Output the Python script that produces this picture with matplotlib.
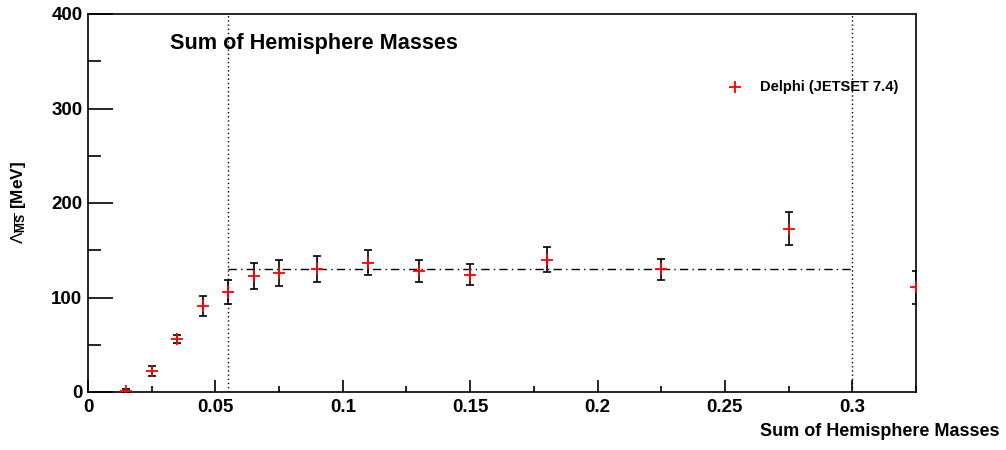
import matplotlib
matplotlib.use("Agg")
import matplotlib.pyplot as plt
from matplotlib.ticker import MultipleLocator

plt.rcParams['font.family'] = ['Liberation Sans', 'DejaVu Sans']
plt.rcParams['mathtext.fontset'] = 'custom'
plt.rcParams['mathtext.rm'] = 'Liberation Sans'
plt.rcParams['mathtext.bf'] = 'Liberation Sans:bold'

x = [0.015, 0.025, 0.035, 0.045, 0.055, 0.065, 0.075, 0.09, 0.11, 0.13, 0.15, 0.18, 0.225, 0.275, 0.325]
y = [1, 22, 56, 91, 106, 123, 126, 130, 137, 128, 124, 140, 130, 173, 111]
yerr = [2, 5, 4, 10.5, 13, 14, 14, 14, 13, 12, 11, 13, 11, 17.5, 17.5]
fit_range = [0.055, 0.3]
fit_value = 130
title = "Sum of Hemisphere Masses"
legend_label = "Delphi (JETSET 7.4)"

fig = plt.figure(figsize=(10.06, 4.5), dpi=100)
ax = fig.add_axes([88/1006, 1-392/450, (916-88)/1006, (392-14)/450])

ax.errorbar(x, y, yerr=yerr, fmt='none', ecolor='black', elinewidth=1.2,
            capsize=2.8, capthick=1.2, zorder=2)
ax.plot(x, y, linestyle='none', marker='+', color='red', markersize=8.5,
        markeredgewidth=1.3, zorder=3)

ax.plot(fit_range, [fit_value, fit_value], color='black', linestyle=(0, (6, 3, 1, 3)),
        linewidth=1.0, zorder=1)
for xv in fit_range:
    ax.axvline(xv, color='black', linestyle=(0, (1, 2)), linewidth=1.0, zorder=1)

ax.set_xlim(0, 0.325)
ax.set_ylim(0, 400)
ax.xaxis.set_minor_locator(MultipleLocator(0.025))
ax.yaxis.set_major_locator(MultipleLocator(100))
ax.yaxis.set_minor_locator(MultipleLocator(50))
ax.set_xticks([0, 0.05, 0.1, 0.15, 0.2, 0.25, 0.3])
ax.set_xticklabels(['0', '0.05', '0.1', '0.15', '0.2', '0.25', '0.3'])
ax.tick_params(axis='x', which='major', direction='in', length=9, width=1.2, labelsize=13.5, pad=5)
ax.tick_params(axis='x', which='minor', direction='in', length=4.5, width=1.2)
ax.tick_params(axis='y', which='major', direction='in', length=18, width=1.2, labelsize=13.5, pad=4)
ax.tick_params(axis='y', which='minor', direction='in', length=9, width=1.2)
for lab in ax.get_xticklabels() + ax.get_yticklabels():
    lab.set_fontweight('bold')
for s in ax.spines.values():
    s.set_linewidth(1.2)

ax.text(170, 450-43, title, transform=None, fontsize=15.6, fontweight='bold',
        ha='left', va='center')

leg_marker, = ax.plot([735], [450-87], transform=None, marker='+', color='red',
                      markersize=8.5, markeredgewidth=1.3, clip_on=False)
ax.text(760, 450-87, legend_label, transform=None, fontsize=10.5, fontweight='bold',
        ha='left', va='center')

fig.text(1000/1006, 1-432/450, "Sum of Hemisphere Masses", fontsize=13, fontweight='bold',
         ha='right', va='center')
fig.text(18/1006, 1-202/450, r'$\Lambda_{\overline{\mathbf{MS}}}$ [MeV]', fontsize=12.4,
         fontweight='bold', rotation=90, ha='center', va='center')

fig.savefig('out.png', dpi=100)
